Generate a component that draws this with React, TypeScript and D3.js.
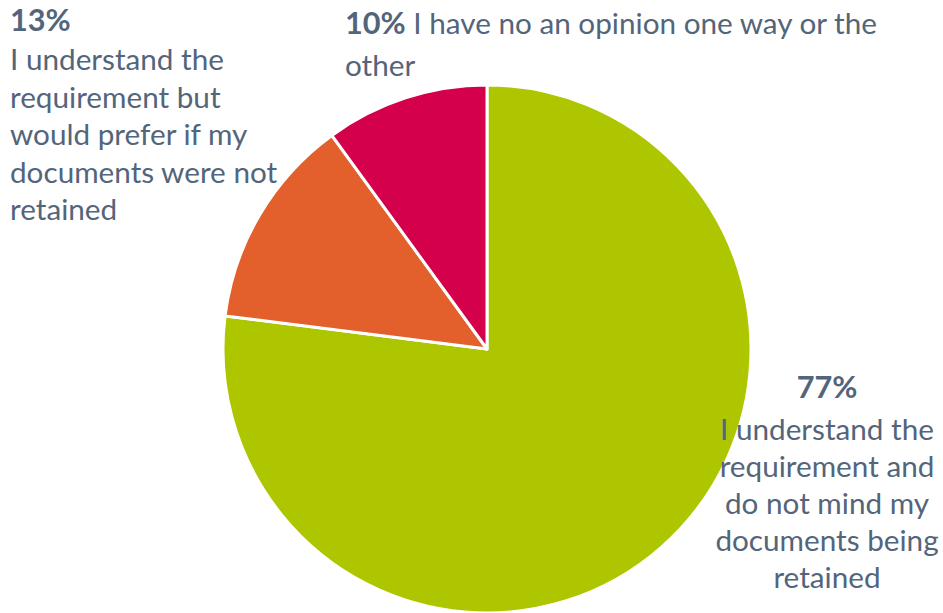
import React from "react";
import * as d3 from "d3";

const categories = [
  "I understand the requirement and do not mind my documents being retained",
  "I understand the requirement but would prefer if my documents were not retained",
  "I have no an opinion one way or the other",
];
const values = [77, 13, 10];
const colors = ["#AEC600", "#E3602D", "#D5004B"];

const W = 943;
const H = 613;
const cx = 487;
const cy = 349;
const R = 264;
const textColor = "#53657A";
const font = "Lato, 'Open Sans', sans-serif";
const fs = 29.7;

export default function App() {
  const pie = d3.pie<number>().sort(null).startAngle(0).endAngle(2 * Math.PI);
  const arcs = pie(values);
  const arcGen = d3.arc<d3.PieArcDatum<number>>().innerRadius(0).outerRadius(R);
  const pct = (v: number) => `${Math.round((v / d3.sum(values)) * 100)}%`;

  return (
    <svg width={W} height={H} style={{ position: "absolute", left: 0, top: 0, background: "#fff" }}>
      <g transform={`translate(${cx},${cy})`}>
        {arcs.map((a, i) => (
          <path key={i} d={arcGen(a) || ""} fill={colors[i]} stroke="#fff" strokeWidth={3} strokeLinejoin="round" />
        ))}
      </g>
      {/* 13% label, top-left */}
      <g fontFamily={font} fill={textColor} fontSize={fs}>
        <text x={10} y={31} fontWeight={700} fontSize={fs + 1}>{pct(values[1])}</text>
        {["I understand the", "requirement but", "would prefer if my", "documents were not", "retained"].map((l, i) => (
          <text key={i} x={10} y={70 + i * 37.5}>{l}</text>
        ))}
      </g>
      {/* 10% label, top */}
      <g fontFamily={font} fill={textColor} fontSize={fs}>
        <text x={345} y={34}>
          <tspan fontWeight={700} fontSize={fs + 1}>{pct(values[2])}</tspan>
          <tspan> I have no an opinion one way or the</tspan>
        </text>
        <text x={345} y={76}>other</text>
      </g>
      {/* 77% label, right */}
      <g fontFamily={font} fill={textColor} fontSize={fs} textAnchor="middle">
        <text x={827} y={398} fontWeight={700} fontSize={fs + 1}>{pct(values[0])}</text>
        {["I understand the", "requirement and", "do not mind my", "documents being", "retained"].map((l, i) => (
          <text key={i} x={827} y={440 + i * 37}>{l}</text>
        ))}
      </g>
    </svg>
  );
}
